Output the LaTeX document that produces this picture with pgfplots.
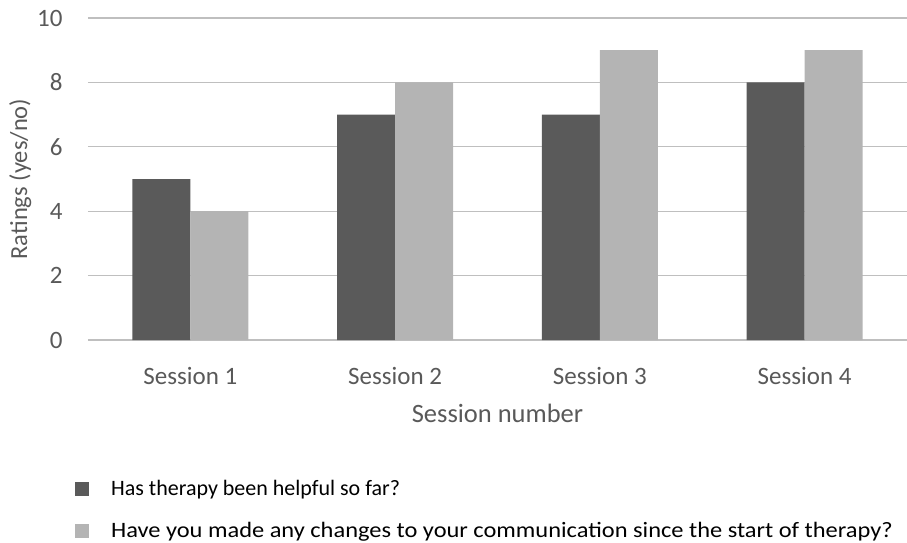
\documentclass[border=0pt]{standalone}
\usepackage{pgfplots}
\pgfplotsset{compat=1.18}
\usepackage{graphicx}
\usepackage{fontspec}
\setmainfont{Carlito}
\definecolor{darkbar}{HTML}{5A5A5A}
\definecolor{lightbar}{HTML}{B4B4B4}
\definecolor{txt}{HTML}{595959}
\definecolor{grid}{HTML}{D9D9D9}
\begin{document}
\begin{tikzpicture}[x=1pt,y=1pt]
\useasboundingbox (0,0) rectangle (907,542);
\begin{axis}[
  at={(88pt,202pt)}, anchor=south west,
  scale only axis, width=819pt, height=322pt,
  ymin=0, ymax=10, ytick={0,2,4,6,8,10},
  xmin=-0.5, xmax=3.5,
  xtick={0,1,2,3},
  xticklabels={Session 1,Session 2,Session 3,Session 4},
  ybar=0pt, bar width=58pt,
  axis line style={draw=none},
  xmajorgrids=false, ymajorgrids=true, grid style={grid, line width=1.2pt},
  major tick length=0pt,
  /pgf/number format/assume math mode=true,
  tick label style={font=\fontsize{25}{28}\selectfont, text=txt},
  yticklabel style={xshift=-22pt},
  xticklabel style={yshift=-24pt},
  xlabel={Session number}, ylabel={Ratings (yes/no)},
  xlabel style={font=\fontsize{26.5}{30}\selectfont, text=txt, yshift=-12pt},
  ylabel style={font=\fontsize{24.5}{28}\selectfont, text=txt, yshift=-1pt},
  legend cell align=left,
  legend style={at={(-0.016,-0.43)}, anchor=north west, draw=none,
    font=\fontsize{22}{24}\selectfont, row sep=21pt, inner sep=0pt},
  legend image code/.code={\fill[#1] (0pt,-7pt) rectangle (14pt,7pt);},
]
\addplot[fill=darkbar, draw=none] coordinates {(0,5) (1,7) (2,7) (3,8)};
\addplot[fill=lightbar, draw=none] coordinates {(0,4) (1,8) (2,9) (3,9)};
\legend{\hspace{20pt}Has therapy been helpful so far?,\hspace{20pt}\scalebox{1.11}[1]{Have you made any changes to your communication since the start of therapy?}}
\end{axis}
\end{tikzpicture}
\end{document}
